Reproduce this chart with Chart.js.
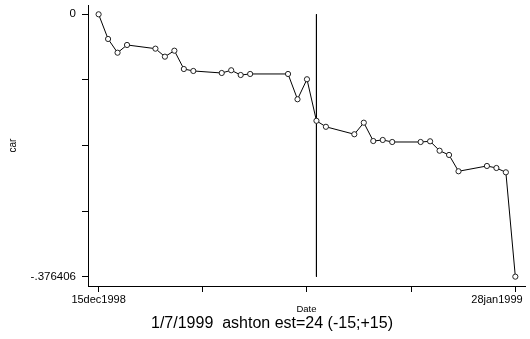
<!DOCTYPE html>
<html>
<head>
<meta charset="utf-8">
<script src="https://cdn.jsdelivr.net/npm/chart.js@4/dist/chart.umd.min.js"></script>
<style>
  html, body { margin: 0; padding: 0; background: #fff; }
  #wrap { width: 530px; height: 339px; }
</style>
</head>
<body>
<div id="wrap"><canvas id="car" width="530" height="339"></canvas></div>
<script>
// day offsets counted from 15dec1998
const days = [0, 1, 2, 3, 6, 7, 8, 9, 10, 13, 14, 15, 16, 20, 21, 22, 23, 24, 27, 28, 29, 30, 31, 34, 35, 36, 37, 38, 41, 42, 43, 44]
const car = [0, -0.0354, -0.0551, -0.0440, -0.0493, -0.0608, -0.0522, -0.0785, -0.0813, -0.0842, -0.0803, -0.0871, -0.0856,
  -0.0856, -0.1219, -0.0932, -0.1528, -0.1614, -0.1721, -0.1555, -0.1818, -0.1803, -0.1832, -0.1832, -0.1822, -0.1957,
  -0.2018, -0.2252, -0.2176, -0.2205, -0.2267, -0.376406]

const eventDay = 23   // 1/7/1999
const xTicks = [0, 11, 22, 33, 44]
// trailing blanks pull the last label back inside the canvas
const xTickLabels = ['15dec1998', '', '', '', '28jan1999            ']
const yTicks = [0, -0.0941015, -0.188203, -0.2823045, -0.376406]
const yTickLabels = ['0', '', '', '', '-.376406']
const caption = '1/7/1999  ashton est=24 (-15;+15)'

const font = "'Liberation Sans', Arial, sans-serif"

const points = days.map((d, i) => ({ x: d, y: car[i] }))
const eventLine = [{ x: eventDay, y: yTicks[0] }, { x: eventDay, y: yTicks[yTicks.length - 1] }]

// caption under the axis title
const captionPlugin = {
  id: 'caption',
  afterDraw(chart) {
    const ctx = chart.ctx
    ctx.save()
    ctx.fillStyle = '#000'
    ctx.font = '16px ' + font
    ctx.textAlign = 'center'
    ctx.textBaseline = 'middle'
    ctx.fillText(caption, 272, 324)
    ctx.restore()
  }
}

// keep the plot box fixed, labels may overhang
const noPad = s => {
  s.paddingLeft = 0
  s.paddingRight = 0
  s.paddingTop = 0
  s.paddingBottom = 0
}

new Chart(document.getElementById('car'), {
  type: 'line',
  data: {
    datasets: [{
      data: points,
      borderColor: '#000',
      borderWidth: 1,
      pointRadius: 2.6,
      pointBorderWidth: 1,
      pointBorderColor: '#222',
      pointBackgroundColor: '#fff',
      tension: 0
    }, {
      data: eventLine,
      borderColor: '#000',
      borderWidth: 1,
      pointRadius: 0
    }]
  },
  options: {
    responsive: false,
    animation: false,
    layout: { padding: { top: 5, right: 3, bottom: 0, left: 0 } },
    plugins: {
      legend: { display: false },
      tooltip: { enabled: false }
    },
    scales: {
      x: {
        type: 'linear',
        min: -1.12,
        max: 45.02,
        afterFit: s => { s.height = 53; noPad(s) },
        afterBuildTicks: s => { s.ticks = xTicks.map(v => ({ value: v })) },
        grid: { drawOnChartArea: false, drawTicks: true, tickLength: 6, color: '#000' },
        border: { display: true, color: '#000', width: 1 },
        ticks: {
          autoSkip: false,
          maxRotation: 0,
          padding: 1,
          color: '#000',
          font: { family: font, size: 11 },
          callback: (v, i) => xTickLabels[i]
        },
        title: {
          display: true,
          text: 'Date',
          color: '#000',
          font: { family: font, size: 9.5, lineHeight: 1 },
          padding: { top: 0, bottom: 24.5 }
        }
      },
      y: {
        type: 'linear',
        min: -0.3898,
        max: 0.01334,
        afterFit: s => { s.width = 88; noPad(s) },
        afterBuildTicks: s => { s.ticks = yTicks.map(v => ({ value: v })) },
        grid: { drawOnChartArea: false, drawTicks: true, tickLength: 6, color: '#000' },
        border: { display: true, color: '#000', width: 1 },
        ticks: {
          autoSkip: false,
          padding: 6,
          color: '#000',
          font: { family: font, size: 11.5 },
          callback: (v, i) => yTickLabels[i]
        },
        title: {
          display: true,
          text: 'car',
          color: '#000',
          font: { family: font, size: 10, lineHeight: 1 },
          padding: { top: 8, bottom: 0 }
        }
      }
    }
  },
  plugins: [captionPlugin]
})
</script>
</body>
</html>
